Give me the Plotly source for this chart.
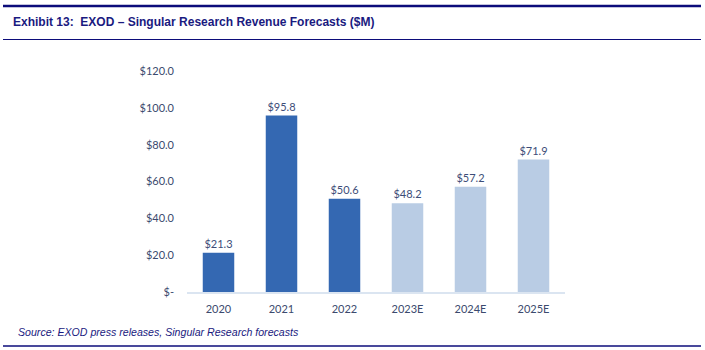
import plotly.graph_objects as go

categories = ["2020", "2021", "2022", "2023E", "2024E", "2025E"]
revenue = [21.3, 95.8, 50.6, 48.2, 57.2, 71.9]
is_forecast = [False, False, False, True, True, True]
ytick_vals = [0, 20, 40, 60, 80, 100, 120]
ytick_text = ["$-", "$20.0", "$40.0", "$60.0", "$80.0", "$100.0", "$120.0"]

W, H = 705, 350
L, R, T, B = 187, 140, 71, 58
PW = W - L - R
PH = H - T - B

def px(x):
    return (x - L) / PW

def py(y):
    return (H - B - y) / PH

colors = ["#b9cce4" if f else "#3468b2" for f in is_forecast]
labels = ["${:.1f}".format(v) for v in revenue]

fig = go.Figure()
fig.add_trace(go.Bar(
    x=categories, y=revenue, width=0.5,
    marker=dict(color=colors, line=dict(width=0)),
    text=labels, textposition="outside", cliponaxis=False,
    textfont=dict(family="Lato, Open Sans, sans-serif", size=11, color="#3d4d78"),
))

navy = "#0c0c7a"
shapes = [
    dict(type="line", xref="paper", yref="paper", x0=px(3), x1=px(701), y0=py(6), y1=py(6),
         line=dict(color=navy, width=2.5)),
    dict(type="line", xref="paper", yref="paper", x0=px(3), x1=px(701), y0=py(39.5), y1=py(39.5),
         line=dict(color=navy, width=1.2)),
    dict(type="line", xref="paper", yref="paper", x0=px(3), x1=px(701), y0=py(346), y1=py(346),
         line=dict(color=navy, width=1.5)),
]

annotations = [
    dict(text="<b>Exhibit 13:  EXOD – Singular Research Revenue Forecasts ($M)</b>",
         xref="paper", yref="paper", x=px(11), y=py(22), xanchor="left", yanchor="middle",
         showarrow=False, font=dict(family="Liberation Sans, Arial, sans-serif", size=12, color="#1a1a80")),
    dict(text="<i>Source: EXOD press releases, Singular Research forecasts</i>",
         xref="paper", yref="paper", x=px(16), y=py(332), xanchor="left", yanchor="middle",
         showarrow=False, font=dict(family="Liberation Sans, Arial, sans-serif", size=10.6, color="#1a1a80")),
]

fig.update_layout(
    width=W, height=H,
    margin=dict(l=L, r=R, t=T, b=B, pad=0),
    paper_bgcolor="white", plot_bgcolor="white",
    showlegend=False,
    shapes=shapes, annotations=annotations,
    bargap=0.5,
    xaxis=dict(
        showgrid=False, showline=True, linecolor="#dbe5f1", linewidth=2,
        ticks="", tickfont=dict(family="Lato, Open Sans, sans-serif", size=11, color="#3b4a6e"),
        ticklabelstandoff=6, fixedrange=True,
    ),
    yaxis=dict(
        range=[0, 120], tickvals=ytick_vals, ticktext=ytick_text,
        showgrid=False, zeroline=False, showline=False, ticks="",
        tickfont=dict(family="Lato, Open Sans, sans-serif", size=11, color="#3b4a6e"),
        ticklabelstandoff=12, fixedrange=True,
    ),
)

fig.write_html("out.html")
